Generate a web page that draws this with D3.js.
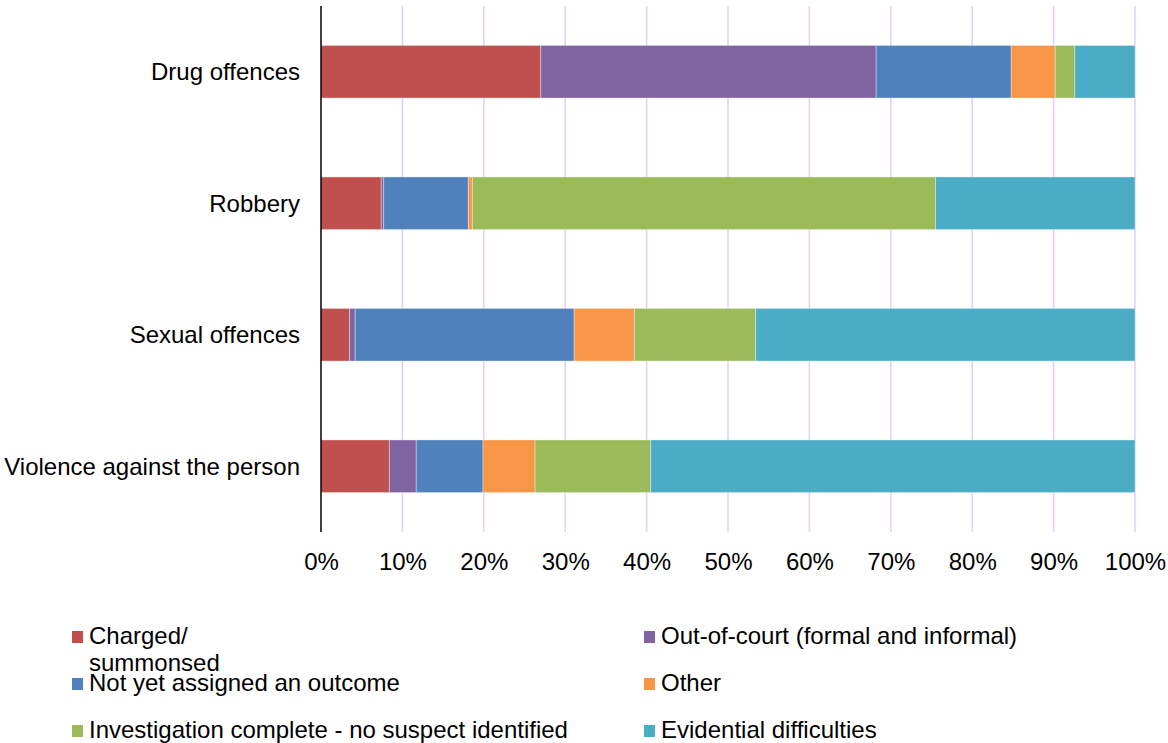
<!DOCTYPE html>
<html>
<head>
<meta charset="utf-8">
<script src="https://cdn.jsdelivr.net/npm/d3@7"></script>
<style>
  body { margin: 0; background: #fff; }
  text { font-family: "Liberation Sans", Arial, sans-serif; fill: #000; }
</style>
</head>
<body>
<svg id="chart" width="1168" height="743"></svg>
<script>
// categories, top to bottom
var categories = ["Drug offences", "Robbery", "Sexual offences", "Violence against the person"];

// outcome series (percent of each category)
var seriesNames = ["Charged/ summonsed", "Out-of-court (formal and informal)", "Not yet assigned an outcome",
                   "Other", "Investigation complete - no suspect identified", "Evidential difficulties"];
var charged     = [27.0, 7.4, 3.5, 8.4];
var outOfCourt  = [41.2, 0.3, 0.7, 3.3];
var notAssigned = [16.6, 10.4, 26.9, 8.2];
var other       = [5.4, 0.5, 7.4, 6.4];
var noSuspect   = [2.4, 56.9, 14.9, 14.2];
var evidential  = [7.4, 24.5, 46.6, 59.5];

var tickValues = [0, 10, 20, 30, 40, 50, 60, 70, 80, 90, 100];
var colors = ["#C0504D", "#8064A2", "#4F81BD", "#F79646", "#9BBB59", "#4BACC6"];

document.addEventListener("DOMContentLoaded", init)

function init() {
	var svg = d3.select("#chart");
	var keys = ["charged", "outOfCourt", "notAssigned", "other", "noSuspect", "evidential"];
	var cols = [charged, outOfCourt, notAssigned, other, noSuspect, evidential];
	var fontSize = "24px";

	// repackage into rows for d3.stack
	var rows = categories.map((c, i)=>{
		let r = {category: c};
		keys.forEach((k, j)=> r[k] = cols[j][i]);
		return r;
	});
	var stacked = d3.stack().keys(keys)(rows);

	var x = d3.scaleLinear().domain([0, 100]).range([321, 1135]);
	var y = d3.scaleBand().domain(categories).range([6, 532])
	          .paddingInner(0.6).paddingOuter(0.3);

	// gridlines
	svg.append("g")
	   .selectAll("line")
	   .data(tickValues.slice(1))
	   .enter()
	   .append("line")
	   .attr("x1", d=>x(d)).attr("x2", d=>x(d))
	   .attr("y1", 6).attr("y2", 532)
	   .style("stroke", "#E3CCFF")
	   .style("stroke-width", 1.5);

	// bars
	svg.append("g")
	   .selectAll("g")
	   .data(stacked)
	   .enter()
	   .append("g")
	   .style("fill", (d, i)=>colors[i])
	   .selectAll("rect")
	   .data(d=>d)
	   .enter()
	   .append("rect")
	   .attr("x", d=>x(d[0]))
	   .attr("width", d=>x(d[1]) - x(d[0]))
	   .attr("y", d=>y(d.data.category))
	   .attr("height", y.bandwidth())
	   .style("stroke", "rgba(255,255,255,0.35)")
	   .style("stroke-width", 1);

	// x axis labels, baseline at 570
	var xAxis = d3.axisBottom(x).tickValues(tickValues).tickSize(0).tickPadding(0)
	              .tickFormat(d=>d + "%");
	svg.append("g")
	   .attr("transform", "translate(0,570)")
	   .call(xAxis)
	   .call(g=>g.select(".domain").remove())
	   .selectAll("text")
	   .attr("y", 0)
	   .attr("dy", 0)
	   .style("font-size", fontSize)
	   .style("font-family", "'Liberation Sans', Arial, sans-serif");

	// y axis
	var yAxis = d3.axisLeft(y).tickSize(0).tickPadding(21);
	svg.append("g")
	   .attr("transform", "translate(321,0)")
	   .call(yAxis)
	   .call(g=>g.select(".domain").remove())
	   .selectAll("text")
	   .style("font-size", fontSize)
	   .attr("dy", "0.35em")
	   .style("font-family", "'Liberation Sans', Arial, sans-serif");

	svg.append("line")
	   .attr("x1", 321).attr("x2", 321)
	   .attr("y1", 6).attr("y2", 532)
	   .style("stroke", "#000")
	   .style("stroke-width", 1.5);

	// legend
	var legendPos = [[72, 631], [644, 631], [72, 678], [644, 678], [72, 725], [644, 725]];
	var legend = svg.append("g")
	   .selectAll("g")
	   .data(seriesNames)
	   .enter()
	   .append("g")
	   .attr("transform", (d, i)=>"translate(" + legendPos[i][0] + "," + legendPos[i][1] + ")");
	legend.append("rect")
	      .attr("width", 11).attr("height", 12)
	      .style("fill", (d, i)=>colors[i]);
	legend.append("text")
	      .attr("x", 17)
	      .attr("y", 13)
	      .style("font-size", fontSize)
	      .each(function(d, i){
	      	  let t = d3.select(this);
	      	  if (i == 0) {
	      	  	  t.append("tspan").attr("x", 17).text("Charged/");
	      	  	  t.append("tspan").attr("x", 17).attr("dy", 27).text("summonsed");
	      	  } else {
	      	  	  t.text(d);
	      	  }
	      });
}
</script>
</body>
</html>
